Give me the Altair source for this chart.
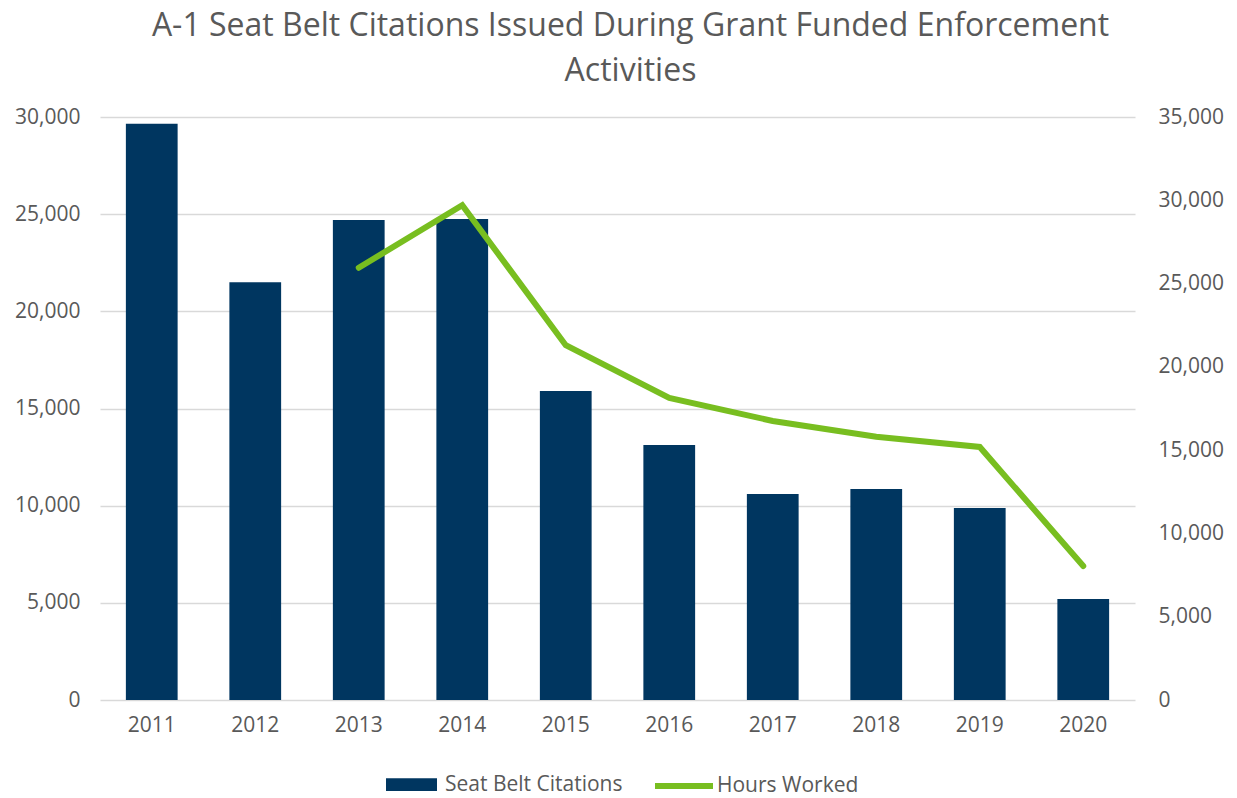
import altair as alt
import pandas as pd

years = ["2011", "2012", "2013", "2014", "2015", "2016", "2017", "2018", "2019", "2020"]
citations = [29650, 21500, 24700, 24750, 15900, 13120, 10600, 10860, 9880, 5200]
hours = [None, None, 25950, 29700, 21300, 18130, 16750, 15800, 15190, 8040]

df = pd.DataFrame({"Year": years, "Citations": citations, "Hours": hours})

FONT = "Open Sans"
TXT = "#595959"
AX = 21

base = alt.Chart(df)

x_enc = alt.X(
    "Year:N",
    title=None,
    sort=years,
    scale=alt.Scale(paddingInner=0.5, paddingOuter=0.25),
    axis=alt.Axis(labelAngle=0, ticks=False, domain=False, labelPadding=14,
                  labelFontSize=AX, labelColor=TXT, labelFont=FONT),
)

bars = base.mark_bar(color="#003660").encode(
    x=x_enc,
    y=alt.Y(
        "Citations:Q",
        title=None,
        scale=alt.Scale(domain=[0, 30000], nice=False),
        axis=alt.Axis(values=[0, 5000, 10000, 15000, 20000, 25000, 30000], format=",.0f",
                      ticks=False, domain=False, labelPadding=20, labelFontSize=AX,
                      labelColor=TXT, labelFont=FONT, grid=True, gridColor="#d9d9d9",
                      gridWidth=1.5),
    ),
    fill=alt.Fill(
        "bl:N",
        scale=alt.Scale(domain=["Seat Belt Citations"], range=["#003660"]),
        legend=alt.Legend(title=None, orient="none", legendX=286, legendY=642,
                          symbolType="M-1,-0.25H1V0.25H-1Z", symbolSize=2601,
                          symbolStrokeWidth=0, labelFontSize=AX, labelColor=TXT,
                          labelFont=FONT, labelOffset=8, labelLimit=400),
    ),
).transform_calculate(bl="'Seat Belt Citations'")

line = base.mark_line(strokeWidth=6, strokeCap="round", strokeJoin="miter").encode(
    x=x_enc,
    y=alt.Y(
        "Hours:Q",
        title=None,
        scale=alt.Scale(domain=[0, 35000], nice=False),
        axis=alt.Axis(orient="right", values=[0, 5000, 10000, 15000, 20000, 25000, 30000, 35000],
                      format=",.0f", ticks=False, domain=False, grid=False, labelPadding=23,
                      labelFontSize=AX, labelColor=TXT, labelFont=FONT),
    ),
    stroke=alt.Stroke(
        "hl:N",
        scale=alt.Scale(domain=["Hours Worked"], range=["#78BE20"]),
        legend=alt.Legend(title=None, orient="none", legendX=552, legendY=637,
                          symbolType="stroke", symbolSize=3364, symbolStrokeWidth=6,
                          labelFontSize=AX, labelColor=TXT, labelFont=FONT, labelOffset=1,
                          labelLimit=400),
    ),
).transform_calculate(hl="'Hours Worked'")

chart = alt.layer(bars, line).resolve_scale(y="independent").properties(
    width=1035,
    height=583,
    title=alt.TitleParams(
        text=["A-1 Seat Belt Citations Issued During Grant Funded Enforcement", "Activities"],
        font=FONT,
        fontSize=32,
        fontWeight="normal",
        color=TXT,
        anchor="middle",
        dx=13,
        offset=18,
        lineHeight=45,
    ),
    autosize=alt.AutoSizeParams(type="none"),
    padding={"left": 92, "top": 109, "right": 92, "bottom": 96},
).configure_view(stroke=None)

chart.save("out.html", embed_options={"renderer": "svg", "actions": False})
